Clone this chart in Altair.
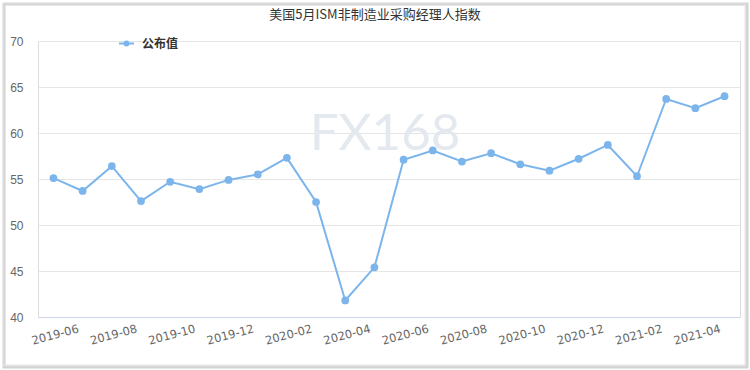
import altair as alt
import pandas as pd

months = ["2019-05", "2019-06", "2019-07", "2019-08", "2019-09", "2019-10",
          "2019-11", "2019-12", "2020-01", "2020-02", "2020-03", "2020-04",
          "2020-05", "2020-06", "2020-07", "2020-08", "2020-09", "2020-10",
          "2020-11", "2020-12", "2021-01", "2021-02", "2021-03", "2021-04"]
values = [55.1, 53.7, 56.4, 52.6, 54.7, 53.9, 54.9, 55.5, 57.3, 52.5, 41.8, 45.4,
          57.1, 58.1, 56.9, 57.8, 56.6, 55.9, 57.2, 58.7, 55.3, 63.7, 62.7, 64.0]
tick_labels = ["2019-06", "2019-08", "2019-10", "2019-12", "2020-02", "2020-04",
               "2020-06", "2020-08", "2020-10", "2020-12", "2021-02", "2021-04"]
series_name = "公布值"
title_text = "美国5月ISM非制造业采购经理人指数"
watermark = "FX168"

df = pd.DataFrame({"month": months, "value": values, "series": series_name})

W, H = 702, 276
BLUE = "#7cb5ec"

frame_shadow = alt.Chart(pd.DataFrame({"a": [0]})).mark_rect(
    fill="transparent", stroke="#d4d4d4", strokeWidth=3
).encode(x=alt.value(-34), x2=alt.value(709), y=alt.value(-37), y2=alt.value(326))

frame = alt.Chart(pd.DataFrame({"a": [0]})).mark_rect(
    fill="transparent", stroke="#e6e6e6", strokeWidth=1
).encode(x=alt.value(-35), x2=alt.value(707), y=alt.value(-38), y2=alt.value(324))

wm = alt.Chart(pd.DataFrame({"t": [watermark]})).mark_text(
    font="Lato", fontSize=51, color="#e3e9ee", align="center", baseline="alphabetic"
).encode(text="t:N", x=alt.value(347), y=alt.value(109))

title = alt.Chart(pd.DataFrame({"t": [title_text]})).mark_text(
    font="Noto Sans CJK SC", fontSize=13, color="#333333", align="center", baseline="middle"
).encode(text="t:N", x=alt.value(337), y=alt.value(-26))

symbol_path = "M-1,0L1,0M0.27,0A0.27,0.27 0 1,1 -0.27,0A0.27,0.27 0 1,1 0.27,0Z"

line = alt.Chart(df).mark_line(
    strokeWidth=2,
    point=alt.OverlayMarkDef(filled=True, size=60, opacity=1),
).encode(
    x=alt.X("month:O", sort=months,
            scale=alt.Scale(type="point", padding=0.53),
            axis=alt.Axis(values=tick_labels, title=None, labelAngle=-15,
                          labelAlign="right", labelBaseline="top",
                          labelColor="#666666", labelFontSize=11.5, labelPadding=6,
                          labelOffset=-6,
                          labelFont="DejaVu Sans",
                          domainColor="#ccd6eb", domainWidth=1, ticks=False,
                          grid=False)),
    y=alt.Y("value:Q", scale=alt.Scale(domain=[40, 70], nice=False, zero=False),
            axis=alt.Axis(values=[40, 45, 50, 55, 60, 65, 70], title=None,
                          domain=False, ticks=False, labelColor="#666666",
                          labelFontSize=12, labelPadding=15, labelFont="Liberation Sans",
                          gridColor="#e6e6e6", gridWidth=1)),
    color=alt.Color("series:N", scale=alt.Scale(range=[BLUE]),
                    legend=alt.Legend(title=None, orient="none", legendX=80, legendY=-6,
                                      symbolType=symbol_path, symbolSize=225,
                                      symbolStrokeWidth=2, symbolFillColor=BLUE,
                                      symbolStrokeColor=BLUE,
                                      labelFont="Noto Sans CJK SC", labelFontSize=12,
                                      labelFontWeight="bold", labelColor="#333333",
                                      labelOffset=7)),
)

chart = alt.layer(frame_shadow, frame, wm, title, line).properties(
    width=W, height=H,
    autosize=alt.AutoSizeParams(type="none"),
    padding={"left": 38, "top": 41, "right": 10, "bottom": 53},
).configure_view(stroke=None).configure(background="white")

chart.save("out.html", embed_options={"renderer": "svg", "actions": False})
